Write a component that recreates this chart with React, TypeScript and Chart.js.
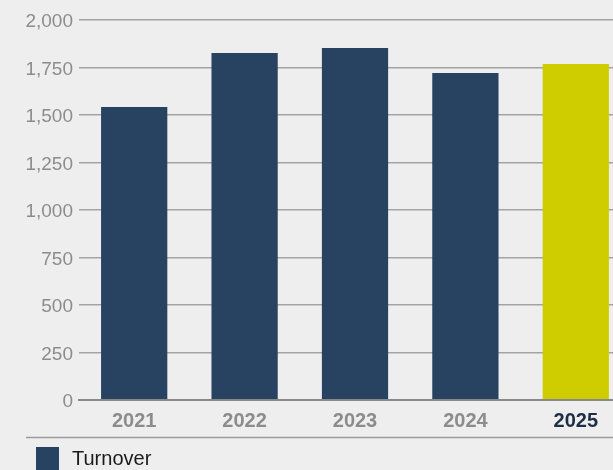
import React, { useEffect, useRef } from "react";
import { Chart, registerables } from "chart.js";

Chart.register(...registerables);

const categories = ["2021", "2022", "2023", "2024", "2025"];
const turnover = [1542, 1826, 1853, 1721, 1768];
const barColors = ["#284262", "#284262", "#284262", "#284262", "#cfcd00"];
const tickColors = ["#8c8c8c", "#8c8c8c", "#8c8c8c", "#8c8c8c", "#1f2e47"];
const seriesLabel = "Turnover";
const yMin = 0;
const yMax = 2000;
const yStep = 250;

const legendPlugin = {
  id: "customLegend",
  afterDraw(chart: any) {
    const ctx = chart.ctx;
    ctx.save();
    ctx.strokeStyle = "#9a9a9a";
    ctx.lineWidth = 1.5;
    ctx.beginPath();
    ctx.moveTo(26, 437.5);
    ctx.lineTo(chart.width, 437.5);
    ctx.stroke();
    ctx.fillStyle = "#284262";
    ctx.fillRect(36, 447, 23, 23);
    ctx.fillStyle = "#1a1a1a";
    ctx.font = "20px 'Liberation Sans', Arial, sans-serif";
    ctx.textBaseline = "middle";
    ctx.textAlign = "left";
    ctx.fillText(chart.data.datasets[0].label, 72, 459);
    ctx.restore();
  },
};

export default function App() {
  const ref = useRef<HTMLCanvasElement | null>(null);
  useEffect(() => {
    document.body.style.margin = "0";
    document.body.style.background = "#eeeeee";
    const chart = new Chart(ref.current!, {
      type: "bar",
      data: {
        labels: categories,
        datasets: [
          {
            label: seriesLabel,
            data: turnover,
            backgroundColor: barColors,
            categoryPercentage: 1,
            barPercentage: 0.6,
          },
        ],
      },
      options: {
        animation: false,
        responsive: false,
        devicePixelRatio: 1,
        layout: { padding: { top: 20, left: 0, right: 9, bottom: 40 } },
        plugins: { legend: { display: false }, tooltip: { enabled: false } },
        scales: {
          x: {
            grid: { display: false, drawTicks: false },
            border: { display: true, color: "#888888", width: 2 },
            ticks: {
              color: tickColors,
              padding: 9,
              font: { family: "'Liberation Sans', Arial, sans-serif", size: 20, weight: "bold" },
            },
            afterFit: (s: any) => {
              s.height = 40;
            },
          },
          y: {
            min: yMin,
            max: yMax,
            border: { display: false },
            grid: {
              drawTicks: false,
              color: (c: any) => (c.tick && c.tick.value === 0 ? "#888888" : "#a3a3a3"),
              lineWidth: (c: any) => (c.tick && c.tick.value === 0 ? 2 : 1.5),
            },
            ticks: {
              stepSize: yStep,
              color: "#8c8c8c",
              padding: 6,
              labelOffset: 2,
              font: { family: "'Liberation Sans', Arial, sans-serif", size: 19 },
            },
            afterFit: (s: any) => {
              s.width = 79;
            },
          },
        },
      },
      plugins: [legendPlugin],
    });
    return () => chart.destroy();
  }, []);
  return (
    <div
      style={{
        position: "fixed",
        left: 0,
        top: 0,
        width: 613,
        height: 470,
        overflow: "hidden",
        background: "#eeeeee",
      }}
    >
      <canvas ref={ref} width={640} height={480} style={{ display: "block" }} />
    </div>
  );
}
